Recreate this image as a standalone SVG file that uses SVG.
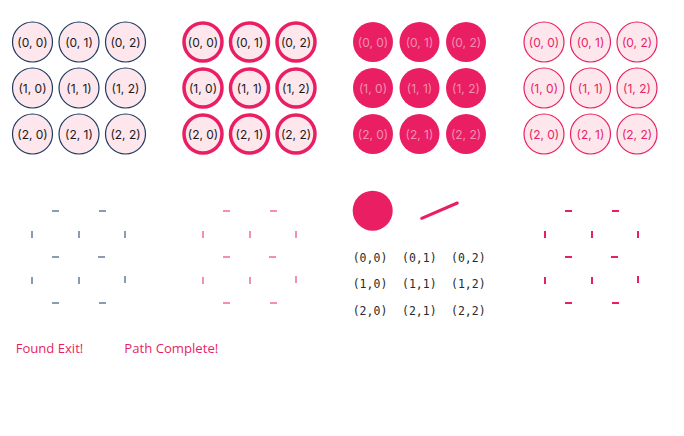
<svg xmlns="http://www.w3.org/2000/svg" width="684" height="436" viewBox="0 0 684 436">
<style>
.lbl{font-family:Inter,"Noto Sans",sans-serif;font-size:12px;text-anchor:middle}
.c1{fill:#fde6ec;stroke:#1e3a5f;stroke-width:1.2}
.t1{fill:#1a1a1a}
.c2{fill:#fde6ec;stroke:#e91e63;stroke-width:3.5}
.t2{fill:#1a1a1a}
.c3{fill:#e91e63;stroke:none}
.t3{fill:#f48fb1}
.c4{fill:#fde6ec;stroke:#e91e63;stroke-width:1.2}
.t4{fill:#e91e63}
.w1{stroke:#8a9bb3;stroke-width:2}
.w2{stroke:#f48fb1;stroke-width:2}
.w4{stroke:#e91e63;stroke-width:2}
.mono{font-family:"DejaVu Sans Mono",monospace;font-size:11.5px;fill:#2a2a2a;text-anchor:middle}
.msg{font-family:"Open Sans","Noto Sans",sans-serif;font-size:13px;fill:#e91e63}
</style>
<defs>
<g id="walls">
<line x1="52" y1="211" x2="59" y2="211"/>
<line x1="99" y1="211" x2="106" y2="211"/>
<line x1="32" y1="231" x2="32" y2="238"/>
<line x1="79" y1="231" x2="79" y2="238"/>
<line x1="125" y1="231" x2="125" y2="238"/>
<line x1="52" y1="257" x2="59" y2="257"/>
<line x1="98" y1="257" x2="105" y2="257"/>
<line x1="32" y1="277" x2="32" y2="284"/>
<line x1="79" y1="277" x2="79" y2="284"/>
<line x1="125" y1="276" x2="125" y2="283"/>
<line x1="52" y1="303" x2="59" y2="303"/>
<line x1="99" y1="303" x2="106" y2="303"/>
</g>
</defs>
<g id="grid1">
<g id="g1-00"><circle class="c1" cx="32.5" cy="42" r="20"/><text class="lbl t1" x="32.5" y="46.5">(0, 0)</text></g>
<g id="g1-01"><circle class="c1" cx="79" cy="42" r="20"/><text class="lbl t1" x="79" y="46.5">(0, 1)</text></g>
<g id="g1-02"><circle class="c1" cx="125.5" cy="42" r="20"/><text class="lbl t1" x="125.5" y="46.5">(0, 2)</text></g>
<g id="g1-10"><circle class="c1" cx="32.5" cy="88" r="20"/><text class="lbl t1" x="32.5" y="92.5">(1, 0)</text></g>
<g id="g1-11"><circle class="c1" cx="79" cy="88" r="20"/><text class="lbl t1" x="79" y="92.5">(1, 1)</text></g>
<g id="g1-12"><circle class="c1" cx="125.5" cy="88" r="20"/><text class="lbl t1" x="125.5" y="92.5">(1, 2)</text></g>
<g id="g1-20"><circle class="c1" cx="32.5" cy="134" r="20"/><text class="lbl t1" x="32.5" y="138.5">(2, 0)</text></g>
<g id="g1-21"><circle class="c1" cx="79" cy="134" r="20"/><text class="lbl t1" x="79" y="138.5">(2, 1)</text></g>
<g id="g1-22"><circle class="c1" cx="125.5" cy="134" r="20"/><text class="lbl t1" x="125.5" y="138.5">(2, 2)</text></g>
</g>
<g id="grid2" transform="translate(170.5,0)">
<g id="g2-00"><circle class="c2" cx="32.5" cy="42" r="19"/><text class="lbl t2" x="32.5" y="46.5">(0, 0)</text></g>
<g id="g2-01"><circle class="c2" cx="79" cy="42" r="19"/><text class="lbl t2" x="79" y="46.5">(0, 1)</text></g>
<g id="g2-02"><circle class="c2" cx="125.5" cy="42" r="19"/><text class="lbl t2" x="125.5" y="46.5">(0, 2)</text></g>
<g id="g2-10"><circle class="c2" cx="32.5" cy="88" r="19"/><text class="lbl t2" x="32.5" y="92.5">(1, 0)</text></g>
<g id="g2-11"><circle class="c2" cx="79" cy="88" r="19"/><text class="lbl t2" x="79" y="92.5">(1, 1)</text></g>
<g id="g2-12"><circle class="c2" cx="125.5" cy="88" r="19"/><text class="lbl t2" x="125.5" y="92.5">(1, 2)</text></g>
<g id="g2-20"><circle class="c2" cx="32.5" cy="134" r="19"/><text class="lbl t2" x="32.5" y="138.5">(2, 0)</text></g>
<g id="g2-21"><circle class="c2" cx="79" cy="134" r="19"/><text class="lbl t2" x="79" y="138.5">(2, 1)</text></g>
<g id="g2-22"><circle class="c2" cx="125.5" cy="134" r="19"/><text class="lbl t2" x="125.5" y="138.5">(2, 2)</text></g>
</g>
<g id="grid3" transform="translate(340.5,0)">
<g id="g3-00"><circle class="c3" cx="32.5" cy="42" r="20"/><text class="lbl t3" x="32.5" y="46.5">(0, 0)</text></g>
<g id="g3-01"><circle class="c3" cx="79" cy="42" r="20"/><text class="lbl t3" x="79" y="46.5">(0, 1)</text></g>
<g id="g3-02"><circle class="c3" cx="125.5" cy="42" r="20"/><text class="lbl t3" x="125.5" y="46.5">(0, 2)</text></g>
<g id="g3-10"><circle class="c3" cx="32.5" cy="88" r="20"/><text class="lbl t3" x="32.5" y="92.5">(1, 0)</text></g>
<g id="g3-11"><circle class="c3" cx="79" cy="88" r="20"/><text class="lbl t3" x="79" y="92.5">(1, 1)</text></g>
<g id="g3-12"><circle class="c3" cx="125.5" cy="88" r="20"/><text class="lbl t3" x="125.5" y="92.5">(1, 2)</text></g>
<g id="g3-20"><circle class="c3" cx="32.5" cy="134" r="20"/><text class="lbl t3" x="32.5" y="138.5">(2, 0)</text></g>
<g id="g3-21"><circle class="c3" cx="79" cy="134" r="20"/><text class="lbl t3" x="79" y="138.5">(2, 1)</text></g>
<g id="g3-22"><circle class="c3" cx="125.5" cy="134" r="20"/><text class="lbl t3" x="125.5" y="138.5">(2, 2)</text></g>
</g>
<g id="grid4" transform="translate(511.5,0)">
<g id="g4-00"><circle class="c4" cx="32.5" cy="42" r="20"/><text class="lbl t4" x="32.5" y="46.5">(0, 0)</text></g>
<g id="g4-01"><circle class="c4" cx="79" cy="42" r="20"/><text class="lbl t4" x="79" y="46.5">(0, 1)</text></g>
<g id="g4-02"><circle class="c4" cx="125.5" cy="42" r="20"/><text class="lbl t4" x="125.5" y="46.5">(0, 2)</text></g>
<g id="g4-10"><circle class="c4" cx="32.5" cy="88" r="20"/><text class="lbl t4" x="32.5" y="92.5">(1, 0)</text></g>
<g id="g4-11"><circle class="c4" cx="79" cy="88" r="20"/><text class="lbl t4" x="79" y="92.5">(1, 1)</text></g>
<g id="g4-12"><circle class="c4" cx="125.5" cy="88" r="20"/><text class="lbl t4" x="125.5" y="92.5">(1, 2)</text></g>
<g id="g4-20"><circle class="c4" cx="32.5" cy="134" r="20"/><text class="lbl t4" x="32.5" y="138.5">(2, 0)</text></g>
<g id="g4-21"><circle class="c4" cx="79" cy="134" r="20"/><text class="lbl t4" x="79" y="138.5">(2, 1)</text></g>
<g id="g4-22"><circle class="c4" cx="125.5" cy="134" r="20"/><text class="lbl t4" x="125.5" y="138.5">(2, 2)</text></g>
</g>
<g id="connectors">
<use href="#walls" class="w1"/>
<use href="#walls" class="w2" transform="translate(171,0)"/>
<use href="#walls" class="w4" transform="translate(513,0)"/>
<line x1="421.7" y1="218.3" x2="457.3" y2="203" stroke="#e91e63" stroke-width="3" stroke-linecap="round"/>
</g>
<g id="cursor"><circle cx="372.7" cy="210.7" r="20" fill="#e91e63"/></g>
<g id="coords">
<text class="mono" x="370" y="261.5">(0,0)</text>
<text class="mono" x="419.3" y="261.5">(0,1)</text>
<text class="mono" x="468.3" y="261.5">(0,2)</text>
<text class="mono" x="370" y="288">(1,0)</text>
<text class="mono" x="419.3" y="288">(1,1)</text>
<text class="mono" x="468.3" y="288">(1,2)</text>
<text class="mono" x="370" y="315">(2,0)</text>
<text class="mono" x="419.3" y="315">(2,1)</text>
<text class="mono" x="468.3" y="315">(2,2)</text>
</g>
<g id="messages">
<text class="msg" x="15.7" y="352.7" textLength="67.6" lengthAdjust="spacingAndGlyphs">Found Exit!</text>
<text class="msg" x="124.3" y="352.7" textLength="94" lengthAdjust="spacingAndGlyphs">Path Complete!</text>
</g>
</svg>
